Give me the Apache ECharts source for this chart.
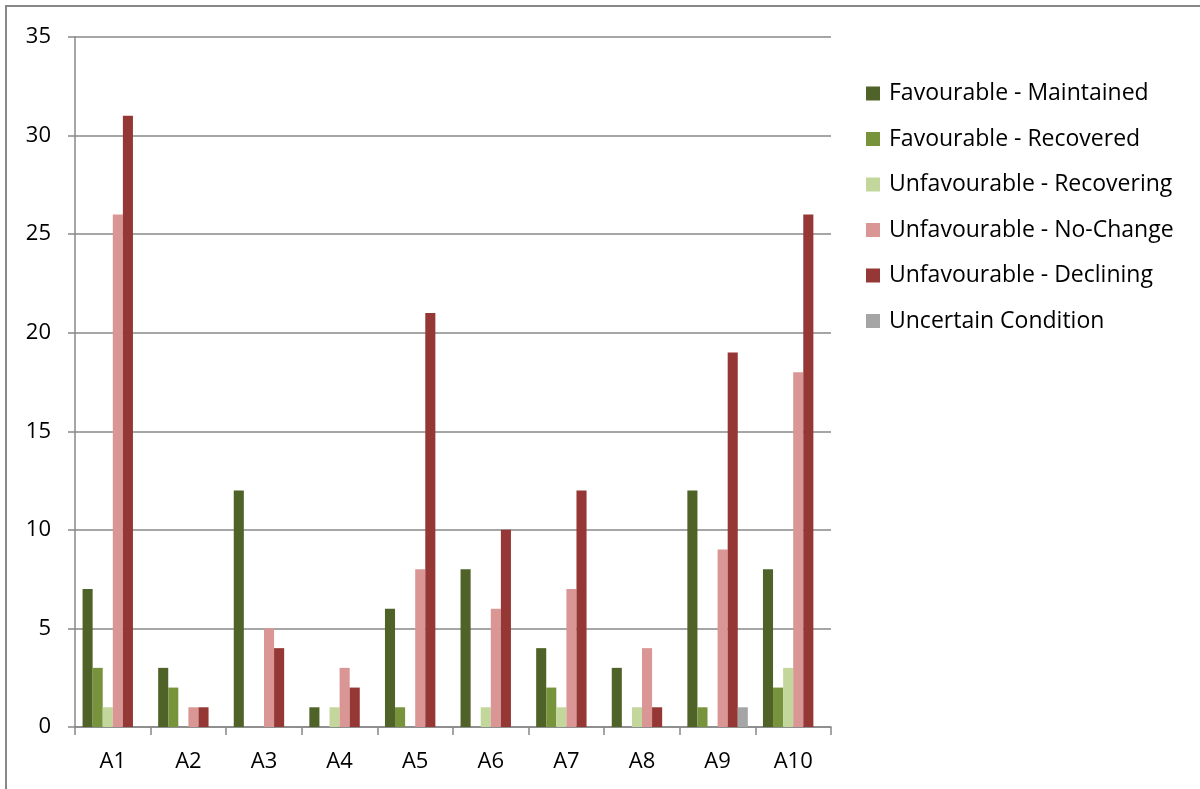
<!DOCTYPE html>
<html>
<head>
<meta charset="utf-8">
<script src="https://cdn.jsdelivr.net/npm/echarts@6/dist/echarts.min.js"></script>
<style>
  html, body { margin: 0; padding: 0; background: #fff; }
  #chart { width: 1200px; height: 789px; }
</style>
</head>
<body>
<div id="chart"></div>
<script>
// Condition assessment counts per area
const categories = ['A1', 'A2', 'A3', 'A4', 'A5', 'A6', 'A7', 'A8', 'A9', 'A10'];

const favourableMaintained   = [7, 3, 12, 1, 6, 8, 4, 3, 12, 8];
const favourableRecovered    = [3, 2, 0, 0, 1, 0, 2, 0, 1, 2];
const unfavourableRecovering = [1, 0, 0, 1, 0, 1, 1, 1, 0, 3];
const unfavourableNoChange   = [26, 1, 5, 3, 8, 6, 7, 4, 9, 18];
const unfavourableDeclining  = [31, 1, 4, 2, 21, 10, 12, 1, 19, 26];
const uncertainCondition     = [0, 0, 0, 0, 0, 0, 0, 0, 1, 0];

const seriesDefs = [
  { name: 'Favourable - Maintained',   data: favourableMaintained,   color: '#4f6228' },
  { name: 'Favourable - Recovered',    data: favourableRecovered,    color: '#77933c' },
  { name: 'Unfavourable - Recovering', data: unfavourableRecovering, color: '#c3d69b' },
  { name: 'Unfavourable - No-Change',  data: unfavourableNoChange,   color: '#d99694' },
  { name: 'Unfavourable - Declining',  data: unfavourableDeclining,  color: '#953735' },
  { name: 'Uncertain Condition',       data: uncertainCondition,     color: '#a5a5a5' }
];

const FONT = '"Open Sans"';
const chart = echarts.init(document.getElementById('chart'), null, { renderer: 'canvas' });

chart.setOption({
  animation: false,
  textStyle: { fontFamily: FONT },
  graphic: [{
    type: 'rect',
    shape: { x: 6, y: 6, width: 1400, height: 1000 },
    style: { fill: 'none', stroke: '#888888', lineWidth: 2 },
    silent: true,
    z: -10
  }],
  grid: { left: 75, top: 37, width: 756, height: 690, containLabel: false },
  legend: {
    orient: 'vertical',
    left: 861,
    top: 77,
    itemWidth: 14,
    itemHeight: 14,
    itemGap: 22.5,
    itemStyle: { borderWidth: 0 },
    icon: 'rect',
    textStyle: { fontFamily: FONT, fontSize: 23, color: '#000', padding: [0, 0, 0, 4] },
    data: seriesDefs.map(s => s.name)
  },
  xAxis: {
    type: 'category',
    data: categories,
    axisLine: { lineStyle: { color: '#888888', width: 1.5 } },
    axisTick: { show: true, length: 8, lineStyle: { color: '#888888', width: 1.5 } },
    axisLabel: { margin: 24, fontSize: 22, color: '#000', fontFamily: FONT },
    splitLine: { show: false }
  },
  yAxis: {
    type: 'value',
    min: 0,
    max: 35,
    interval: 5,
    axisLine: { show: true, lineStyle: { color: '#888888', width: 1.5 } },
    axisTick: { show: true, length: 7, lineStyle: { color: '#888888', width: 1.5 } },
    axisLabel: { margin: 24, fontSize: 22, color: '#000', fontFamily: FONT },
    splitLine: { show: true, lineStyle: { color: '#888888', width: 1.5 } }
  },
  series: seriesDefs.map(s => ({
    name: s.name,
    type: 'bar',
    data: s.data,
    barGap: '0%',
    barCategoryGap: '20%',
    itemStyle: { color: s.color },
    emphasis: { disabled: true }
  }))
});
</script>
</body>
</html>
